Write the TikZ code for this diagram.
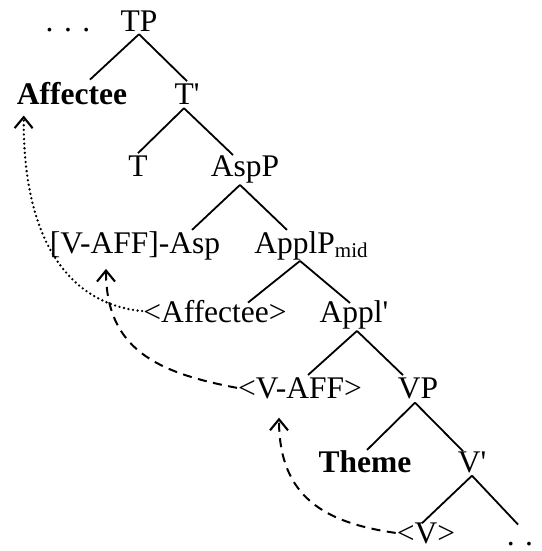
\documentclass[tikz,border=0pt]{standalone}
\usepackage{fontspec}
\newfontfamily\treefont{Liberation Serif}
\usetikzlibrary{calc,arrows.meta}
\begin{document}
\begin{tikzpicture}[x=1pt,y=-1pt,
  lab/.style={anchor=base,inner xsep=1pt,inner ysep=2pt,
    font=\treefont\fontsize{31.5}{36}\selectfont},
  boldlab/.style={lab,font=\treefont\bfseries\fontsize{31.5}{36}\selectfont},
  branch/.style={line width=1.8pt},
  move/.style={line width=2pt,-{Straight Barb[length=11pt,width=18pt,line width=2.1pt]}},
  dottedmove/.style={move,line cap=round,dash pattern=on 0pt off 4.6pt,line width=2.6pt},
  dashedmove/.style={move,dash pattern=on 9pt off 6.5pt}]
\useasboundingbox (0,0) rectangle (541,551);

% labels
\node[lab] (dl) at (68,32) {.\,\,.\,\,.};
\node[lab] (tp) at (139,32) {TP};
\node[boldlab] (aff) at (72,104) {Affectee};
\node[lab] (tbar) at (187,104) {T'};
\node[lab] (t) at (138,176) {T};
\node[lab] (asp) at (245,176) {AspP};
\node[lab] (vasp) at (135,253) {[V-AFF]-Asp};
\node[lab] (appl) at (311,253) {ApplP\raisebox{-0.14em}{\fontsize{21}{24}\selectfont mid}};
\node[lab] (aff2) at (215,322) {<Affectee>};
\node[lab] (applbar) at (354,322) {Appl'};
\node[lab] (vaff) at (300,398) {<V-AFF>};
\node[lab] (vp) at (418,398) {VP};
\node[boldlab] (theme) at (365,472) {Theme};
\node[lab] (vbar) at (472,472) {V'};
\node[lab] (v) at (426,543) {<V>};
\node[lab] (dr) at (520,545) {.\,\,.};

% branches
\draw[branch] (tp.south) -- ($(aff.north)+(18,0)$);
\draw[branch] (tp.south) -- ($(tbar.north)+(0,0)$);
\draw[branch] ($(tbar.south)+(-3,2)$) -- ($(t.north)+(0,0)$);
\draw[branch] ($(tbar.south)+(-3,2)$) -- ($(asp.north)+(-12,2)$);
\draw[branch] ($(asp.south)+(-5,0)$) -- ($(vasp.north)+(57,1)$);
\draw[branch] ($(asp.south)+(-5,0)$) -- ($(appl.north)+(-24,1)$);
\draw[branch] ($(appl.south)+(-11,-1)$) -- ($(aff2.north)+(33,5)$);
\draw[branch] ($(appl.south)+(-11,-1)$) -- ($(applbar.north)+(-4,5)$);
\draw[branch] ($(applbar.south)+(3,0)$) -- ($(vaff.north)+(8,0)$);
\draw[branch] ($(applbar.south)+(3,0)$) -- ($(vp.north)+(-15,0)$);
\draw[branch] ($(vp.south)+(-3,2)$) -- ($(theme.north)+(2,2)$);
\draw[branch] ($(vp.south)+(-3,2)$) -- ($(vbar.north)+(-9,2)$);
\draw[branch] ($(vbar.south)+(0,1)$) -- ($(v.north)+(-4,3)$);
\draw[branch] ($(vbar.south)+(0,1)$) -- ($(dr.north)+(-2,-15)$);

% movement arrows
\coordinate (afftip) at ($(aff.south west)+(8,9)$);
\coordinate (vasptip) at ($(vasp.south)+(-29,7)$);
\coordinate (vafftip) at ($(vaff.south)+(-21,17)$);
\draw[dottedmove] (aff2.west) .. controls +(-73,-7) and +(-1,125) .. (afftip);
\draw[dashedmove] (vaff.west) .. controls +(-80,-15) and +(0,80) .. (vasptip);
\draw[dashedmove] (v.west) .. controls +(-70,-10) and +(0,80) .. (vafftip);
\end{tikzpicture}
\end{document}
